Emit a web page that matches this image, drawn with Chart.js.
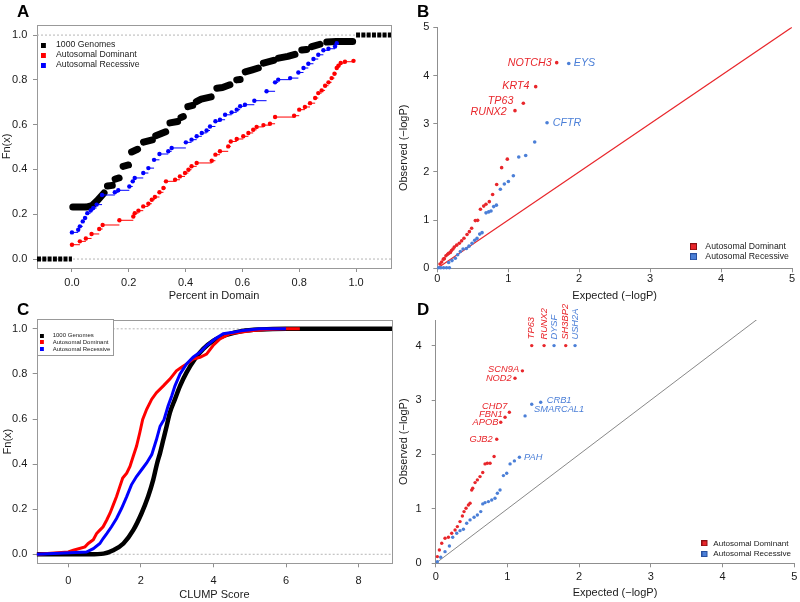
<!DOCTYPE html>
<html><head><meta charset="utf-8">
<script src="https://cdn.jsdelivr.net/npm/chart.js@4.4.1/dist/chart.umd.min.js"></script>
<style>
html,body{margin:0;padding:0;background:#fff;}
body{width:800px;height:602px;position:relative;overflow:hidden;}
canvas{position:absolute;display:block;}
.tag{position:absolute;font:bold 17px 'Liberation Sans',Arial,Helvetica,sans-serif;line-height:17px;color:#000;}
</style></head><body>
<canvas id="cA" width="400" height="305" style="left:0;top:0;width:400px;height:305px"></canvas>
<canvas id="cB" width="405" height="305" style="left:395px;top:0;width:405px;height:305px"></canvas>
<canvas id="cC" width="400" height="301" style="left:0;top:301px;width:400px;height:301px"></canvas>
<canvas id="cD" width="405" height="306" style="left:395px;top:296px;width:405px;height:306px"></canvas>
<div class="tag" style="left:17px;top:3px">A</div>
<div class="tag" style="left:417px;top:3px">B</div>
<div class="tag" style="left:17px;top:301px">C</div>
<div class="tag" style="left:417px;top:301px">D</div>
<script>
// ================= DATA =================
// ---- Panel A: ECDF of percent in domain ----
const aXRange = [-0.123, 1.123];
const aYRange = [-0.04, 1.045];
const aXTicks = [0, 0.2, 0.4, 0.6, 0.8, 1.0];
const aYTicks = [0, 0.2, 0.4, 0.6, 0.8, 1.0];
const aRefY = [0, 1];
const aSeriesNames = ['1000 Genomes', 'Autosomal Dominant', 'Autosomal Recessive'];
// 1000 Genomes: runs of dense points (null = break between runs)
const aGenomesX = [0.003,0.05,0.07,0.09,0.113,null,0.125,0.142,null,0.152,0.166,null,0.18,0.199,null,0.21,0.231,null,0.252,0.283,null,0.295,0.33,null,0.345,0.372,null,0.384,0.392,null,0.408,0.425,null,0.438,0.455,0.49,null,0.51,0.53,0.556,null,0.58,0.592,null,0.61,0.635,0.656,null,0.674,0.71,null,0.727,0.76,0.785,null,0.809,0.826,null,0.844,0.873,null,0.897,0.93,0.988];
const aGenomesY = [0.232,0.232,0.238,0.262,0.295,null,0.326,0.329,null,0.357,0.362,null,0.414,0.42,null,0.478,0.49,null,0.522,0.532,null,0.55,0.568,null,0.608,0.614,null,0.632,0.636,null,0.68,0.686,null,0.703,0.714,0.724,null,0.763,0.766,0.778,null,0.8,0.802,null,0.836,0.845,0.853,null,0.875,0.887,null,0.897,0.905,0.914,null,0.933,0.936,null,0.948,0.959,null,0.969,0.971,0.971];
const aGenomesTailX = [-0.123, 0, null, 1.0, 1.123];
const aGenomesTailY = [0, 0, null, 1, 1];
const aDomX = [0,0.028,0.049,0.069,0.096,0.108,0.167,0.216,0.221,0.234,0.251,0.269,0.281,0.292,0.308,0.322,0.331,0.363,0.380,0.398,0.410,0.421,0.439,0.492,0.505,0.521,0.550,0.559,0.580,0.603,0.621,0.638,0.650,0.674,0.697,0.715,0.782,0.800,0.820,0.838,0.856,0.867,0.879,0.891,0.903,0.914,0.924,0.932,0.938,0.946,0.961,0.991];
const aDomY = [0.064,0.079,0.092,0.112,0.134,0.152,0.173,0.190,0.205,0.216,0.235,0.247,0.265,0.277,0.298,0.317,0.347,0.354,0.369,0.384,0.399,0.414,0.429,0.439,0.466,0.481,0.503,0.525,0.536,0.548,0.563,0.577,0.590,0.598,0.604,0.634,0.640,0.667,0.679,0.696,0.719,0.741,0.753,0.774,0.789,0.808,0.827,0.853,0.863,0.875,0.881,0.885];
const aRecX = [0,0.022,0.028,0.038,0.046,0.054,0.066,0.075,0.087,0.106,0.151,0.163,0.202,0.214,0.221,0.251,0.269,0.289,0.308,0.339,0.351,0.401,0.421,0.439,0.457,0.474,0.486,0.505,0.521,0.539,0.562,0.580,0.592,0.609,0.642,0.685,0.715,0.726,0.768,0.797,0.815,0.832,0.850,0.867,0.885,0.903,0.926,0.932];
const aRecY = [0.119,0.131,0.146,0.168,0.183,0.205,0.217,0.228,0.243,0.286,0.298,0.307,0.324,0.347,0.362,0.384,0.406,0.443,0.469,0.481,0.496,0.521,0.533,0.548,0.563,0.574,0.592,0.615,0.622,0.644,0.655,0.667,0.682,0.689,0.707,0.749,0.789,0.801,0.808,0.833,0.853,0.872,0.893,0.912,0.932,0.939,0.949,0.964];

// ---- Panel B: QQ plot ----
const bRange = [0, 5];
const bTicks = [0, 1, 2, 3, 4, 5];
const bDiag = [0, 5];
const bSeriesNames = ['Autosomal Dominant', 'Autosomal Recessive'];
const bDomX = [1.683,1.387,1.213,1.095,0.987,0.907,0.837,0.780,0.733,0.686,0.654,0.608,0.569,0.536,0.484,0.452,0.419,0.376,0.343,0.310,0.273,0.240,0.221,0.200,0.184,0.160,0.146,0.122,0.099,0.085,0.062,0.038];
const bDomY = [4.267,3.769,3.423,3.271,2.265,2.088,1.740,1.530,1.383,1.330,1.290,1.224,0.995,0.990,0.830,0.760,0.700,0.625,0.570,0.520,0.480,0.440,0.400,0.370,0.330,0.310,0.290,0.260,0.200,0.190,0.130,0.090];
const bDomGenes = ['NOTCH3','KRT4','TP63','RUNX2'];
const bRecX = [1.853,1.547,1.373,1.246,1.148,1.072,1.002,0.945,0.889,0.833,0.795,0.757,0.724,0.687,0.631,0.598,0.560,0.527,0.490,0.447,0.410,0.363,0.325,0.287,0.254,0.207,0.160,0.170,0.130,0.090,0.050,0.020];
const bRecY = [4.250,3.020,2.620,2.340,2.310,1.920,1.800,1.750,1.640,1.310,1.280,1.190,1.170,1.150,0.740,0.710,0.620,0.580,0.520,0.460,0.410,0.400,0.350,0.280,0.210,0.160,0.120,0.010,0.010,0.010,0.010,0.010];
const bRecGenes = ['EYS','CFTR'];

// ---- Panel C: ECDF of CLUMP score ----
const cXRange = [-0.87, 8.92];
const cYRange = [-0.04, 1.04];
const cXTicks = [0, 2, 4, 6, 8];
const cYTicks = [0, 0.2, 0.4, 0.6, 0.8, 1.0];
const cRefY = [0, 1];
const cGenomesX = [-0.87,0.6,0.97,1.24,1.52,1.79,2.02,2.20,2.34,2.45,2.53,2.62,2.71,2.80,2.94,3.08,3.26,3.49,3.72,4.0,4.36,4.8,5.3,6.0,8.92];
const cGenomesY = [0,0,0.003,0.018,0.048,0.107,0.182,0.256,0.330,0.405,0.450,0.509,0.568,0.628,0.688,0.747,0.807,0.866,0.911,0.948,0.973,0.990,0.997,1.0,1.0];
const cDomX = [-0.87,0,0.14,0.46,0.55,0.69,0.78,0.87,0.96,1.06,1.15,1.24,1.33,1.42,1.50,1.61,1.70,1.79,1.88,1.97,2.05,2.16,2.30,2.43,2.62,2.80,2.98,3.12,3.26,3.44,3.63,3.81,3.99,4.18,4.45,4.73,5.10,5.46,6.01,6.38];
const cDomY = [0,0.010,0.018,0.033,0.048,0.065,0.092,0.107,0.122,0.152,0.182,0.219,0.256,0.300,0.338,0.360,0.390,0.435,0.479,0.539,0.598,0.643,0.688,0.717,0.747,0.777,0.814,0.829,0.844,0.866,0.874,0.888,0.926,0.955,0.978,0.985,0.993,0.997,1.0,1.0];
const cRecX = [-0.87,0.5,0.69,0.87,0.96,1.06,1.19,1.33,1.47,1.61,1.74,1.88,2.02,2.16,2.30,2.43,2.53,2.64,2.75,2.85,2.94,3.08,3.26,3.44,3.63,3.81,4.04,4.27,4.55,4.82,5.28,6.0];
const cRecY = [0,0.010,0.025,0.048,0.070,0.092,0.122,0.159,0.204,0.256,0.308,0.345,0.375,0.405,0.442,0.509,0.568,0.598,0.658,0.702,0.747,0.800,0.844,0.874,0.896,0.926,0.955,0.978,0.985,0.993,1.0,1.0];

// ---- Panel D: QQ plot ----
const dXRange = [0, 5];
const dYRange = [0, 4.47];
const dXTicks = [0, 1, 2, 3, 4, 5];
const dYTicks = [0, 1, 2, 3, 4];
const dDiag = [0, 4.5];
const dDomX = [1.339,1.511,1.813,1.209,1.106,1.027,0.967,0.907,0.851,0.814,0.758,0.720,0.688,0.656,0.618,0.581,0.549,0.516,0.502,0.479,0.456,0.423,0.395,0.372,0.339,0.302,0.270,0.223,0.177,0.130,0.084,0.051,0.023];
const dDomY = [4.0,4.0,4.0,3.536,3.401,2.776,2.684,2.592,2.279,1.961,1.838,1.838,1.826,1.667,1.593,1.532,1.483,1.379,1.348,1.103,1.072,1.011,0.950,0.870,0.766,0.674,0.613,0.551,0.478,0.460,0.368,0.245,0.123];
const dDomGenes = ['TP63','RUNX2','SH3BP2','SCN9A','NOD2','CHD7','FBN1','APOB','GJB2'];
const dRecX = [1.650,1.943,1.464,1.339,1.246,1.167,1.097,1.037,0.990,0.944,0.897,0.860,0.827,0.781,0.735,0.688,0.656,0.628,0.581,0.535,0.479,0.432,0.386,0.339,0.293,0.237,0.191,0.130,0.070,0.023];
const dRecY = [4.0,4.0,2.960,2.923,2.708,1.949,1.881,1.826,1.654,1.611,1.348,1.287,1.195,1.164,1.134,1.115,1.091,0.950,0.888,0.846,0.797,0.735,0.625,0.600,0.551,0.478,0.319,0.214,0.110,0.030];
const dRecGenes = ['DYSF','USH2A','CRB1','','SMARCAL1','PAH'];

// ================= STYLE / HELPERS =================
const FF = "'Liberation Sans', Arial, Helvetica, sans-serif";
const AX = '#8f8f8f';
const TXT = '#1a1a1a';
const RED = '#ff0000', BLUE = '#0000ff', BLACK = '#000000';
const RED2 = '#e8262b', BLUE2 = '#4b7fd7';

function pts(xs, ys) {
  return xs.map((x, i) => x === null ? { x: xs[i - 1], y: null } : { x: x, y: ys[i] });
}
function steps(xs, ys) {
  const out = [];
  for (let i = 0; i < xs.length - 1; i++) {
    out.push({ x: xs[i], y: ys[i] }, { x: xs[i + 1], y: ys[i] }, { x: xs[i + 1], y: null });
  }
  return out;
}
function hlines(vals, range) {
  const out = [];
  vals.forEach(v => out.push({ x: range[0], y: v }, { x: range[1], y: v }, { x: range[1], y: null }));
  return out;
}
function swatch(w, sq, fill, stroke) {
  const c = document.createElement('canvas');
  c.width = w; c.height = sq;
  const g = c.getContext('2d');
  g.fillStyle = fill; g.fillRect(0, 0, sq, sq);
  if (stroke) { g.strokeStyle = stroke; g.lineWidth = 1; g.strokeRect(0.5, 0.5, sq - 1, sq - 1); }
  return c;
}
function axis(o) {
  const horiz = o.pos === 'bottom';
  return {
    type: 'linear', position: o.pos, min: o.range[0], max: o.range[1],
    afterBuildTicks: (s) => { s.ticks = o.ticks.map(v => ({ value: v })); },
    afterFit: (s) => {
      if (horiz) s.height = o.size; else s.width = o.size;
      s.paddingLeft = 0; s.paddingRight = 0; s.paddingTop = 0; s.paddingBottom = 0;
    },
    grid: { display: true, drawOnChartArea: false, drawTicks: true, tickLength: o.tickLen || 4, color: AX, tickColor: AX, lineWidth: 1, tickWidth: 1 },
    border: { display: !!o.border, color: AX, width: 1 },
    ticks: { font: { family: FF, size: 11 }, color: TXT, padding: o.pad, maxRotation: 0, minRotation: 0, autoSkip: false, callback: o.fmt },
    title: { display: true, text: o.title, font: { family: FF, size: 11 }, color: TXT, padding: o.tpad }
  };
}
function legendOpts(items, font, pad, psw, sq) {
  return {
    display: true, position: 'chartArea', align: 'start',
    labels: {
      usePointStyle: true, pointStyleWidth: psw, boxHeight: sq, padding: pad,
      font: { family: FF, size: font }, color: TXT,
      generateLabels: () => items.map(it => ({
        text: it.text, pointStyle: swatch(Math.round(psw), sq, it.fill, it.stroke),
        fillStyle: it.fill, strokeStyle: it.fill, lineWidth: 0, hidden: false, fontColor: TXT
      }))
    }
  };
}

const decor = {
  id: 'decor',
  beforeDraw(chart, args, o) {
    const lg = chart.legend;
    if (lg && o.legendAt) {
      lg.left = o.legendAt[0]; lg.top = o.legendAt[1];
      lg.right = lg.left + 230; lg.bottom = lg.top + 120;
      lg.width = 230; lg.height = 120;
    }
  },
  beforeDatasetsDraw(chart, args, o) {
    if (!o.frame) return;
    const ca = chart.chartArea, c = chart.ctx;
    c.save(); c.strokeStyle = o.frame; c.lineWidth = 1;
    const l = Math.round(ca.left) + 0.5, t = Math.round(ca.top) + 0.5;
    c.strokeRect(l, t, Math.round(ca.right) - Math.round(ca.left), Math.round(ca.bottom) - Math.round(ca.top));
    c.restore();
  },
  afterDatasetsDraw(chart, args, o) {
    const c = chart.ctx, ca = chart.chartArea;
    if (o.legendBox) {
      const [w, h] = o.legendBox;
      const l = Math.round(ca.left) + 0.5, t = Math.round(ca.top) - 0.5;
      c.save(); c.fillStyle = '#fff'; c.fillRect(l, t, w, h);
      c.strokeStyle = o.frame; c.lineWidth = 1; c.strokeRect(l, t, w, h); c.restore();
      chart.legend.draw();
    }
    (o.genes || []).forEach(gs => {
      const meta = chart.getDatasetMeta(gs.ds);
      gs.names.forEach((name, i) => {
        if (!name) return;
        const el = meta.data[i];
        const p = gs.pos[i], off = gs.off[i];
        c.save();
        c.font = 'italic ' + o.geneFont + 'px ' + FF;
        c.fillStyle = gs.color; c.textBaseline = 'middle';
        if (p === 'u') {
          c.translate(el.x, el.y - off[1]); c.rotate(-Math.PI / 2);
          c.textAlign = 'left'; c.fillText(name, 0, 0);
        } else if (p === 'l') {
          c.textAlign = 'right'; c.fillText(name, el.x - off[0], el.y + off[1]);
        } else {
          c.textAlign = 'left'; c.fillText(name, el.x + off[0], el.y + off[1]);
        }
        c.restore();
      });
    });
  }
};

const base = { responsive: false, animation: false, devicePixelRatio: 1, events: [] };

// ================= PANEL A =================
new Chart(document.getElementById('cA'), {
  type: 'scatter',
  data: { datasets: [
    { data: hlines(aRefY, aXRange), showLine: true, borderColor: '#b5b5b5', borderWidth: 1, borderDash: [2, 2], pointRadius: 0, order: 10 },
    { data: pts(aGenomesX, aGenomesY), showLine: true, borderColor: BLACK, borderWidth: 7, borderCapStyle: 'round', borderJoinStyle: 'round', pointRadius: 0, order: 3 },
    { data: pts(aGenomesTailX, aGenomesTailY), showLine: true, borderColor: BLACK, borderWidth: 5, borderDash: [4, 1.3], pointRadius: 0, order: 3 },
    { data: steps(aDomX, aDomY), showLine: true, borderColor: RED, borderWidth: 1, pointRadius: 0, order: 2 },
    { data: pts(aDomX, aDomY), pointRadius: 2.2, pointBackgroundColor: RED, pointBorderWidth: 0, order: 2 },
    { data: steps(aRecX, aRecY), showLine: true, borderColor: BLUE, borderWidth: 1, pointRadius: 0, order: 1 },
    { data: pts(aRecX, aRecY), pointRadius: 2.2, pointBackgroundColor: BLUE, pointBorderWidth: 0, order: 1 }
  ]},
  options: Object.assign({}, base, {
    layout: { padding: { left: 0, top: 25, right: 9, bottom: 0 } },
    scales: {
      x: axis({ pos: 'bottom', range: aXRange, ticks: aXTicks, size: 37, pad: 4.1, fmt: v => v.toFixed(1), title: 'Percent in Domain', tpad: { top: 0, bottom: 2.4 } }),
      y: axis({ pos: 'left', range: aYRange, ticks: aYTicks, size: 37, pad: 5.7, fmt: v => v.toFixed(1), title: 'Fn(x)', tpad: { top: 0.4, bottom: 0 } })
    },
    plugins: {
      tooltip: { enabled: false },
      legend: legendOpts([
        { text: aSeriesNames[0], fill: BLACK }, { text: aSeriesNames[1], fill: RED }, { text: aSeriesNames[2], fill: BLUE }
      ], 8.7, 1.3, 10.65, 5),
      decor: { frame: '#999', legendAt: [39.7, 39.35] }
    }
  }),
  plugins: [decor]
});

// ================= PANEL B =================
new Chart(document.getElementById('cB'), {
  type: 'scatter',
  data: { datasets: [
    { data: pts(bDiag, bDiag), showLine: true, borderColor: RED2, borderWidth: 1.3, pointRadius: 0, order: 10 },
    { data: pts(bDomX, bDomY), pointRadius: 1.8, pointBackgroundColor: RED2, pointBorderWidth: 0, clip: false, order: 2 },
    { data: pts(bRecX, bRecY), pointRadius: 1.8, pointBackgroundColor: BLUE2, pointBorderWidth: 0, clip: false, order: 1 }
  ]},
  options: Object.assign({}, base, {
    layout: { padding: { left: 0, top: 27.3, right: 8, bottom: 0 } },
    scales: {
      x: axis({ pos: 'bottom', range: bRange, ticks: bTicks, size: 36.7, pad: 0.4, border: true, fmt: v => String(v), title: 'Expected (\u2212logP)', tpad: { top: 0, bottom: 2.4 } }),
      y: axis({ pos: 'left', range: bRange, ticks: bTicks, size: 42.3, pad: 4, border: true, fmt: v => String(v), title: 'Observed (\u2212logP)', tpad: { top: 2.4, bottom: 0 } })
    },
    plugins: {
      tooltip: { enabled: false },
      legend: legendOpts([
        { text: bSeriesNames[0], fill: RED2, stroke: '#8a0f12' }, { text: bSeriesNames[1], fill: BLUE2, stroke: '#28509e' }
      ], 8.7, 1.3, 11, 7),
      decor: { legendAt: [293.7, 241.05], geneFont: 10.7,
        genes: [
          { ds: 1, names: bDomGenes, pos: ['l', 'l', 'l', 'l'], off: [[5, 0], [6.3, -0.7], [10, -2.3], [8.3, 1]], color: RED2 },
          { ds: 2, names: bRecGenes, pos: ['r', 'r'], off: [[5, 0], [5.7, 0]], color: BLUE2 }
        ] }
    }
  }),
  plugins: [decor]
});

// ================= PANEL C =================
new Chart(document.getElementById('cC'), {
  type: 'scatter',
  data: { datasets: [
    { data: hlines(cRefY, cXRange), showLine: true, borderColor: '#b5b5b5', borderWidth: 1, borderDash: [2, 2], pointRadius: 0, order: 10 },
    { data: pts(cGenomesX, cGenomesY), showLine: true, borderColor: BLACK, borderWidth: 4.5, cubicInterpolationMode: 'monotone', pointRadius: 0, order: 3 },
    { data: pts(cDomX, cDomY), showLine: true, borderColor: RED, borderWidth: 3, pointRadius: 0, order: 2 },
    { data: pts(cRecX, cRecY), showLine: true, borderColor: BLUE, borderWidth: 3, pointRadius: 0, order: 1 }
  ]},
  options: Object.assign({}, base, {
    layout: { padding: { left: 0, top: 18.8, right: 8, bottom: 0 } },
    scales: {
      x: axis({ pos: 'bottom', range: cXRange, ticks: cXTicks, size: 38.7, pad: 7.4, fmt: v => String(v), title: 'CLUMP Score', tpad: { top: 0, bottom: 0 } }),
      y: axis({ pos: 'left', range: cYRange, ticks: cYTicks, size: 36.7, pad: 5.4, fmt: v => v.toFixed(1), title: 'Fn(x)', tpad: { top: 1.7, bottom: 0 } })
    },
    plugins: {
      tooltip: { enabled: false },
      legend: legendOpts([
        { text: aSeriesNames[0], fill: BLACK }, { text: aSeriesNames[1], fill: RED }, { text: aSeriesNames[2], fill: BLUE }
      ], 6, 0.7, 9.7, 4),
      decor: { frame: '#999', legendAt: [39.3, 31], legendBox: [76, 36] }
    }
  }),
  plugins: [decor]
});

// ================= PANEL D =================
new Chart(document.getElementById('cD'), {
  type: 'scatter',
  data: { datasets: [
    { data: pts(dDiag, dDiag), showLine: true, borderColor: '#6a6a6a', borderWidth: 0.8, pointRadius: 0, order: 10 },
    { data: pts(dDomX, dDomY), pointRadius: 1.7, pointBackgroundColor: RED2, pointBorderWidth: 0, clip: false, order: 2 },
    { data: pts(dRecX, dRecY), pointRadius: 1.7, pointBackgroundColor: BLUE2, pointBorderWidth: 0, clip: false, order: 1 }
  ]},
  options: Object.assign({}, base, {
    layout: { padding: { left: 0, top: 24, right: 5.7, bottom: 0 } },
    scales: {
      x: axis({ pos: 'bottom', range: dXRange, ticks: dXTicks, size: 38.7, pad: 2.8, border: true, fmt: v => String(v), title: 'Expected (\u2212logP)', tpad: { top: 0, bottom: 2.7 } }),
      y: axis({ pos: 'left', range: dYRange, ticks: dYTicks, size: 40.7, pad: 10, border: true, fmt: v => String(v), title: 'Observed (\u2212logP)', tpad: { top: 2.4, bottom: 0 } })
    },
    plugins: {
      tooltip: { enabled: false },
      legend: legendOpts([
        { text: bSeriesNames[0], fill: RED2, stroke: '#8a0f12' }, { text: bSeriesNames[1], fill: BLUE2, stroke: '#28509e' }
      ], 8.1, 2.6, 7.5, 6),
      decor: { legendAt: [304.1, 240.65], geneFont: 9.3,
        genes: [
          { ds: 1, names: dDomGenes, pos: ['u', 'u', 'u', 'l', 'l', 'l', 'l', 'l', 'l'],
            off: [[0, 6.4], [0, 6], [0, 6], [3.3, -1.7], [3.3, 0], [2, -5.6], [2.3, -2.3], [2.4, 0], [4, 0]], color: RED2 },
          { ds: 2, names: dRecGenes, pos: ['u', 'u', 'r', '', 'r', 'r'],
            off: [[0, 6], [0, 6], [6, -1.3], [0, 0], [9, -6], [4.7, 0]], color: BLUE2 }
        ] }
    }
  }),
  plugins: [decor]
});
</script></body></html>
